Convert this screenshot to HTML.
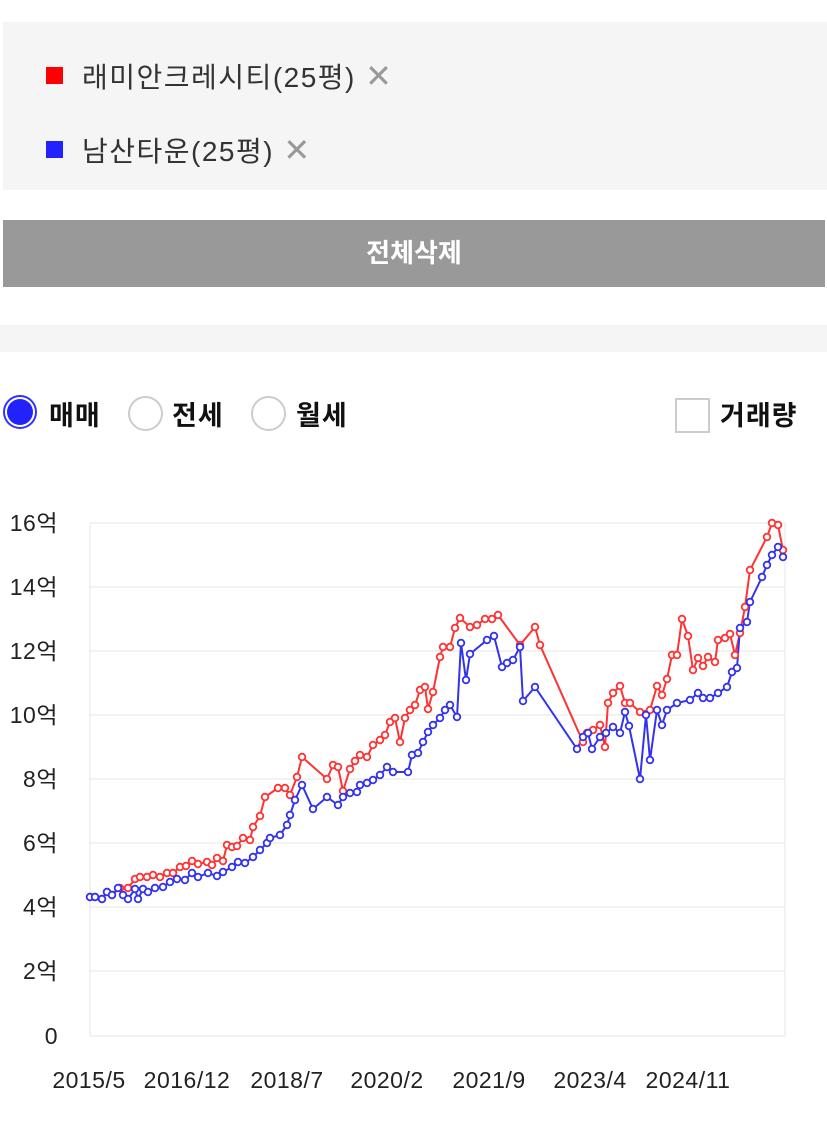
<!DOCTYPE html>
<html><head><meta charset="utf-8"><style>
body{margin:0;width:827px;height:1124px;background:#fff;font-family:"Liberation Sans","Noto Sans CJK KR",sans-serif;position:relative;overflow:hidden}
.a{position:absolute;white-space:nowrap}
</style></head><body>
<div class="a" style="left:3px;top:22px;width:824px;height:168px;background:#f5f5f5"></div>
<div class="a" style="left:46px;top:67px;width:17px;height:17px;background:#f00"></div>
<div class="a" style="left:82px;top:56px;font-size:28px;letter-spacing:1.5px;color:#333">래미안크레시티(25평) <span style="color:#999;font-size:32px">✕</span></div>
<div class="a" style="left:46px;top:141px;width:17px;height:17px;background:#22f"></div>
<div class="a" style="left:82px;top:130px;font-size:28px;letter-spacing:1.5px;color:#333">남산타운(25평) <span style="color:#999;font-size:32px">✕</span></div>
<div class="a" style="left:3px;top:220px;width:822px;height:67px;background:#999;color:#fff;font-weight:bold;font-size:26px;text-align:center;line-height:67px">전체삭제</div>
<div class="a" style="left:0;top:325px;width:827px;height:27px;background:#f5f5f5"></div>
<div class="a" style="left:3px;top:395px;width:30px;height:30px;border-radius:50%;border:2px solid #33f;background:#fff"></div>
<div class="a" style="left:7px;top:399px;width:26px;height:26px;border-radius:50%;background:#22f"></div>
<div class="a" style="left:49px;top:394px;font-size:27px;letter-spacing:1px;font-weight:bold;color:#111">매매</div>
<div class="a" style="left:128px;top:396px;width:31px;height:31px;border-radius:50%;border:2px solid #ccc"></div>
<div class="a" style="left:172px;top:394px;font-size:27px;letter-spacing:1px;font-weight:bold;color:#111">전세</div>
<div class="a" style="left:251px;top:396px;width:31px;height:31px;border-radius:50%;border:2px solid #ccc"></div>
<div class="a" style="left:296px;top:394px;font-size:27px;letter-spacing:1px;font-weight:bold;color:#111">월세</div>
<div class="a" style="left:675px;top:398px;width:31px;height:31px;border:2px solid #ccc"></div>
<div class="a" style="left:720px;top:394px;font-size:27px;letter-spacing:1px;font-weight:bold;color:#111">거래량</div>
<svg class="a" style="left:0;top:0" width="827" height="1124" font-family="Liberation Sans, Noto Sans CJK KR, sans-serif" font-size="23" fill="#222">
<g stroke="#eee" stroke-width="1.5">
<line x1="90" y1="523" x2="785" y2="523"/><line x1="90" y1="587" x2="785" y2="587"/><line x1="90" y1="651" x2="785" y2="651"/><line x1="90" y1="715" x2="785" y2="715"/><line x1="90" y1="779" x2="785" y2="779"/><line x1="90" y1="843" x2="785" y2="843"/><line x1="90" y1="907" x2="785" y2="907"/><line x1="90" y1="971" x2="785" y2="971"/><line x1="90" y1="1036" x2="785" y2="1036"/>
<line x1="90" y1="523" x2="90" y2="1036"/><line x1="785" y1="523" x2="785" y2="1036"/>
</g>
<g text-anchor="end" letter-spacing="0.5">
<text x="58" y="531">16억</text><text x="58" y="595">14억</text><text x="58" y="659">12억</text><text x="58" y="723">10억</text><text x="58" y="787">8억</text><text x="58" y="851">6억</text><text x="58" y="915">4억</text><text x="58" y="979">2억</text><text x="58" y="1044">0</text>
</g>
<g text-anchor="middle" letter-spacing="0.5">
<text x="89" y="1088">2015/5</text><text x="187" y="1088">2016/12</text><text x="287" y="1088">2018/7</text><text x="387" y="1088">2020/2</text><text x="489" y="1088">2021/9</text><text x="590" y="1088">2023/4</text><text x="688" y="1088">2024/11</text>
</g>
<polyline id="r" fill="none" stroke="#f33" stroke-width="2" points="90,897 95,897 102,899 107,892 112,895 120,888 128,888 135,879 140,877 147,877 153,875 160,877 167,873 173,873 180,867 186,866 192,861 198,864 207,862 212,865 217,858 223,861 227,845 232,847 237,846 243,838 250,840 253,827 260,816 265,797 278,788 285,788 290,795 297,777 302,757 327,779 333,765 338,767 343,791 350,769 355,761 360,755 367,757 373,745 380,740 385,735 390,722 395,718 400,742 405,718 410,710 415,705 420,690 425,687 428,709 433,692 440,657 443,647 450,647 455,628 460,618 470,627 477,625 485,619 492,619 498,615 520,645 535,627 540,645 583,742 587,733 593,730 600,725 605,747 608,703 613,693 620,686 625,703 630,703 640,712 650,710 657,686 662,695 667,679 672,655 677,655 682,619 688,636 693,670 698,658 703,666 708,657 715,662 718,640 725,638 730,634 735,655 740,633 745,607 750,570 767,537 772,523 778,525 783,550"/>
<polyline id="b" fill="none" stroke="#33e" stroke-width="2" points="90,897 95,897 102,899 107,892 112,895 118,888 123,895 128,899 135,889 138,899 143,889 148,892 155,888 163,887 170,882 177,879 185,880 192,873 198,877 208,873 217,876 223,872 232,867 238,862 245,863 253,857 260,850 267,843 270,838 280,835 287,825 290,815 295,800 302,785 313,809 327,797 338,805 343,797 350,793 357,792 360,785 367,783 373,780 380,775 387,767 393,772 408,772 412,755 418,753 423,742 428,732 433,725 440,718 445,710 450,705 457,717 461,643 466,680 470,654 487,640 494,636 502,667 507,663 513,660 520,647 523,701 535,687 577,749 583,737 588,733 592,749 600,737 606,733 613,727 620,733 625,712 629,726 640,779 646,715 650,760 657,710 662,725 667,710 677,703 690,700 698,693 703,698 710,698 718,693 727,687 732,672 737,668 740,628 747,622 750,602 762,577 767,565 772,555 778,547 783,557"/>
</svg>
<script>
['r','b'].forEach(function(id){var p=document.getElementById(id);var c=p.getAttribute('stroke');var s=p.ownerSVGElement;
p.getAttribute('points').trim().split(/\s+/).forEach(function(t){var q=t.split(',');var e=document.createElementNS('http://www.w3.org/2000/svg','circle');
e.setAttribute('cx',q[0]);e.setAttribute('cy',q[1]);e.setAttribute('r','3.3');e.setAttribute('fill','#fff');e.setAttribute('stroke',c);e.setAttribute('stroke-width','1.8');s.appendChild(e);});});
</script>
</body></html>
